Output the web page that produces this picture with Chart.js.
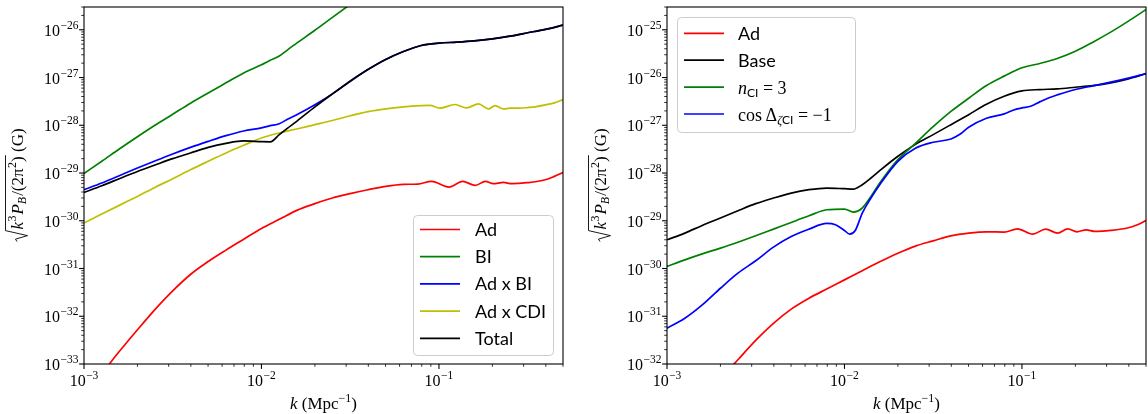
<!DOCTYPE html>
<html>
<head>
<meta charset="utf-8">
<script src="https://cdn.jsdelivr.net/npm/chart.js@4.4.1/dist/chart.umd.min.js"></script>
<style>
  html, body { margin: 0; padding: 0; background: #fff; }
  #wrap { position: relative; width: 1148px; height: 414px; }
  canvas { position: absolute; top: 0; }
  #left { left: 0; }
  #right { left: 574px; }
</style>
</head>
<body>
<div id="wrap">
  <canvas id="left" width="574" height="414"></canvas>
  <canvas id="right" width="574" height="414"></canvas>
</div>
<script>
// k values (Mpc^-1) shared by the smooth curves
const kBase = [0.001, 0.00126, 0.00158, 0.002, 0.00251, 0.00316, 0.00398, 0.00501, 0.00631, 0.00794,
  0.01, 0.0112, 0.0126, 0.0141, 0.0158, 0.02, 0.0251, 0.0316, 0.0398, 0.0501,
  0.0631, 0.0794, 0.1, 0.126, 0.158, 0.2, 0.251, 0.316, 0.398, 0.501];

// left panel
const leftBI = [9.8e-30, 1.76e-29, 3.18e-29, 5.75e-29, 1.0e-28, 1.70e-28, 2.90e-28, 4.76e-28, 7.73e-28, 1.25e-27,
  1.85e-27, 2.3e-27, 2.82e-27, 3.85e-27, 5.25e-27, 9.77e-27, 1.82e-26, 3.39e-26, 6.3e-26];
const leftAdBI = [4.47e-30, 6.17e-30, 8.79e-30, 1.27e-29, 1.79e-29, 2.51e-29, 3.45e-29, 4.61e-29, 6.07e-29, 7.60e-29,
  8.79e-29, 9.8e-29, 1.08e-28, 1.35e-28, 1.66e-28, 2.69e-28, 4.54e-28, 8.37e-28, 1.47e-27, 2.39e-27,
  3.51e-27, 4.69e-27, 5.25e-27, 5.51e-27, 5.87e-27, 6.47e-27, 7.36e-27, 8.65e-27, 1.02e-26, 1.25e-26];
const leftTotal = [3.93e-30, 5.42e-30, 7.60e-30, 1.08e-29, 1.47e-29, 2.00e-29, 2.63e-29, 3.45e-29, 4.19e-29, 4.69e-29,
  4.54e-29, 4.5e-29, 6.37e-29, 8.79e-29, 1.21e-28, 2.43e-28, 4.54e-28, 8.37e-28, 1.47e-27, 2.39e-27,
  3.51e-27, 4.69e-27, 5.25e-27, 5.51e-27, 5.87e-27, 6.47e-27, 7.36e-27, 8.65e-27, 1.02e-26, 1.25e-26];
const kLeftAdCDI = [0.001, 0.00126, 0.00158, 0.002, 0.00251, 0.00316, 0.00398, 0.00501, 0.00631, 0.00794,
  0.01, 0.0126, 0.0158, 0.02, 0.0251, 0.0316, 0.0398, 0.0501, 0.0631, 0.0794,
  0.089, 0.101, 0.123, 0.143, 0.167, 0.190, 0.207, 0.231, 0.251, 0.282, 0.316, 0.355, 0.398, 0.447, 0.501];
const leftAdCDI = [8.93e-31, 1.38e-30, 2.10e-30, 3.24e-30, 5.00e-30, 7.60e-30, 1.17e-29, 1.76e-29, 2.63e-29, 3.80e-29,
  5.42e-29, 6.90e-29, 8.37e-29, 1.03e-28, 1.26e-28, 1.58e-28, 1.93e-28, 2.21e-28, 2.43e-28, 2.57e-28,
  2.6e-28, 2.28e-28, 2.72e-28, 2.31e-28, 2.81e-28, 2.20e-28, 2.59e-28, 2.20e-28, 2.28e-28, 2.28e-28, 2.35e-28, 2.46e-28, 2.67e-28, 2.94e-28, 3.45e-28];
const kLeftAd = [0.001, 0.00126, 0.00158, 0.002, 0.00251, 0.00316, 0.00398, 0.00501, 0.00631, 0.00794,
  0.01, 0.0126, 0.0158, 0.02, 0.0251, 0.0316, 0.0398, 0.0501, 0.0631, 0.0759,
  0.091, 0.114, 0.136, 0.160, 0.183, 0.202, 0.231, 0.257, 0.313, 0.398, 0.447, 0.501];
const leftAd = [2.3e-34, 6.4e-34, 1.82e-33, 5.2e-33, 1.38e-32, 3.4e-32, 7.5e-32, 1.40e-31, 2.43e-31, 4.1e-31,
  6.9e-31, 1.07e-30, 1.65e-30, 2.28e-30, 3.0e-30, 3.7e-30, 4.47e-30, 5.25e-30, 5.78e-30, 5.88e-30,
  6.68e-30, 5.08e-30, 6.68e-30, 5.51e-30, 6.68e-30, 5.97e-30, 6.36e-30, 5.97e-30, 6.27e-30, 7.24e-30, 8.51e-30, 1.03e-29];

// right panel
const rightBase = [3.99e-30, 5.51e-30, 7.98e-30, 1.14e-29, 1.62e-29, 2.28e-29, 2.99e-29, 3.80e-29, 4.47e-29, 4.84e-29,
  4.69e-29, 4.6e-29, 5.69e-29, 7.85e-29, 1.12e-28, 2.24e-28, 3.98e-28, 6.37e-28, 1.03e-27, 1.67e-27,
  2.76e-27, 4.06e-27, 5.25e-27, 5.60e-27, 5.78e-27, 6.26e-27, 6.79e-27, 7.73e-27, 9.38e-27, 1.21e-26];
const rightNCI = [1.10e-30, 1.52e-30, 2.03e-30, 2.67e-30, 3.56e-30, 4.84e-30, 6.68e-30, 9.23e-30, 1.27e-29, 1.70e-29,
  1.76e-29, 1.52e-29, 1.85e-29, 3.24e-29, 6.17e-29, 1.91e-28, 4.17e-28, 9.33e-28, 1.95e-27, 3.68e-27,
  6.79e-27, 1.07e-26, 1.60e-26, 1.97e-26, 2.51e-26, 3.56e-26, 5.51e-26, 8.93e-26, 1.52e-25, 2.67e-25];
const kRightCos = [0.001, 0.00126, 0.00158, 0.002, 0.00251, 0.00316, 0.00398, 0.00501, 0.00631, 0.00794,
  0.0089, 0.01, 0.0107, 0.0115, 0.0126, 0.0141, 0.0158, 0.02, 0.0251, 0.0316,
  0.0398, 0.0447, 0.0501, 0.0631, 0.0794, 0.0891, 0.1, 0.112, 0.126, 0.141,
  0.158, 0.2, 0.251, 0.316, 0.398, 0.501];
const rightCos = [5.60e-32, 9.08e-32, 1.73e-31, 3.86e-31, 7.98e-31, 1.45e-30, 2.81e-30, 4.69e-30, 6.68e-30, 8.79e-30,
  8.24e-30, 6.27e-30, 5.25e-30, 6.27e-30, 1.45e-29, 2.99e-29, 5.69e-29, 1.76e-28, 3.30e-28, 4.40e-28,
  5.16e-28, 6.47e-28, 9.08e-28, 1.40e-27, 1.73e-27, 2.07e-27, 2.31e-27, 2.50e-27, 3.09e-27, 3.74e-27,
  4.33e-27, 5.60e-27, 6.68e-27, 7.98e-27, 9.68e-27, 1.21e-26];
const kRightAd = [0.002, 0.00251, 0.00316, 0.00398, 0.00501, 0.00631, 0.00794, 0.01, 0.0126, 0.0158,
  0.02, 0.0251, 0.0316, 0.0398, 0.0501, 0.0631, 0.0794, 0.0944, 0.115, 0.136,
  0.159, 0.181, 0.204, 0.230, 0.258, 0.316, 0.398, 0.447, 0.501];
const rightAd = [4.9e-33, 1.23e-32, 3.12e-32, 7.1e-32, 1.41e-31, 2.39e-31, 3.72e-31, 5.78e-31, 9.0e-31, 1.38e-30,
  2.09e-30, 2.95e-30, 3.80e-30, 4.84e-30, 5.51e-30, 5.87e-30, 5.8e-30, 6.79e-30, 5.25e-30, 6.68e-30,
  5.51e-30, 6.79e-30, 5.87e-30, 6.47e-30, 5.97e-30, 6.27e-30, 7.13e-30, 8.24e-30, 1.02e-29];

// axis ranges
const kRange = [1e-3, 0.5];
const leftYRange = [1e-33, 3e-26];
const rightYRange = [1e-32, 3e-25];

const SERIF = '"Liberation Serif", "DejaVu Serif", serif';
const SANS = 'Lato, "DejaVu Sans", sans-serif';
const RED = '#ff0000', GREEN = '#008000', BLUE = '#0000ff', YELLOW = '#bfbf00', BLACK = '#000000';

function toPoints(ks, vals) {
  return vals.map((v, i) => ({ x: ks[i], y: v }));
}

// draw a run of text pieces (sub/superscripts) one after another
function richWidth(ctx, parts) {
  let w = 0;
  parts.forEach(p => {
    ctx.font = p.font;
    w += ctx.measureText(p.text).width + (p.gap || 0);
  });
  return w;
}

function drawRich(ctx, parts, x, y, align) {
  const w = richWidth(ctx, parts);
  let cx = align === 'center' ? x - w / 2 : align === 'right' ? x - w : x;
  ctx.textAlign = 'left';
  ctx.textBaseline = 'alphabetic';
  parts.forEach(p => {
    ctx.font = p.font;
    ctx.fillText(p.text, cx, y + (p.dy || 0));
    cx += ctx.measureText(p.text).width + (p.gap || 0);
  });
  return w;
}

function powerParts(exp) {
  return [
    { text: '10', font: '16px ' + SERIF, gap: 0.5 },
    { text: '\u2212' + Math.abs(exp), font: '11.5px ' + SERIF, dy: -7 }
  ];
}

function logTicks(min, max) {
  const out = [];
  for (let n = Math.floor(Math.log10(min)); n <= Math.ceil(Math.log10(max)); n++) {
    for (let m = 1; m <= 9; m++) {
      const v = m * Math.pow(10, n);
      if (v >= min * 0.999 && v <= max * 1.001) out.push({ v, major: m === 1, exp: n });
    }
  }
  return out;
}

function drawYTitle(ctx, bx, cy) {
  const f = '17px ' + SERIF, fi = 'italic 17px ' + SERIF;
  const fs = '12px ' + SERIF, fsi = 'italic 12px ' + SERIF;
  const radicand = [
    { text: 'k', font: fi, gap: 0.5 },
    { text: '3', font: fs, dy: -7, gap: 1 },
    { text: 'P', font: fi },
    { text: 'B', font: fsi, dy: 3, gap: 1 },
    { text: '/(2\u03c0', font: f, gap: 0.5 },
    { text: '2', font: fs, dy: -7 },
    { text: ')', font: f }
  ];
  const tail = [{ text: ' (G)', font: f }];
  const radW = 13;
  const wRad = richWidth(ctx, radicand);
  const total = radW + wRad + richWidth(ctx, tail);
  ctx.save();
  ctx.translate(bx, cy);
  ctx.rotate(-Math.PI / 2);
  const x = -total / 2;
  ctx.beginPath();
  ctx.moveTo(x + 1, -6);
  ctx.lineTo(x + 3.5, -7.5);
  ctx.lineTo(x + 7, 4.5);
  ctx.lineTo(x + 12, -17.5);
  ctx.lineTo(x + radW + wRad + 1, -17.5);
  ctx.lineWidth = 0.9;
  ctx.strokeStyle = '#000';
  ctx.stroke();
  ctx.fillStyle = '#000';
  drawRich(ctx, radicand, x + radW, 0, 'left');
  drawRich(ctx, tail, x + radW + wRad, 0, 'left');
  ctx.restore();
}

function drawXTitle(ctx, cx, y) {
  drawRich(ctx, [
    { text: 'k', font: 'italic 17px ' + SERIF },
    { text: ' (Mpc', font: '17px ' + SERIF },
    { text: '\u22121', font: '12px ' + SERIF, dy: -7 },
    { text: ')', font: '17px ' + SERIF }
  ], cx, y, 'center');
}

// axes frame, log ticks, labels and legend (matplotlib look)
const decorPlugin = {
  id: 'decor',
  afterDraw(chart, args, opts) {
    const ctx = chart.ctx;
    const area = chart.chartArea;
    const xs = chart.scales.x, ys = chart.scales.y;
    ctx.save();
    ctx.strokeStyle = '#000';
    ctx.fillStyle = '#000';

    logTicks(xs.min, xs.max).forEach(t => {
      const px = xs.getPixelForValue(t.v);
      ctx.lineWidth = t.major ? 1.1 : 0.8;
      ctx.beginPath();
      ctx.moveTo(px, area.bottom);
      ctx.lineTo(px, area.bottom + (t.major ? 4.9 : 2.8));
      ctx.stroke();
      if (t.major) drawRich(ctx, powerParts(t.exp), px, area.bottom + 22, 'center');
    });
    logTicks(ys.min, ys.max).forEach(t => {
      const py = ys.getPixelForValue(t.v);
      ctx.lineWidth = t.major ? 1.1 : 0.8;
      ctx.beginPath();
      ctx.moveTo(area.left, py);
      ctx.lineTo(area.left - (t.major ? 4.9 : 2.8), py);
      ctx.stroke();
      if (t.major) drawRich(ctx, powerParts(t.exp), area.left - 5.5, py + 6, 'right');
    });

    ctx.lineWidth = 1.1;
    ctx.strokeRect(area.left, area.top, area.right - area.left, area.bottom - area.top);

    drawXTitle(ctx, (area.left + area.right) / 2, area.bottom + 45);
    drawYTitle(ctx, area.left - 61, (area.top + area.bottom) / 2);

    // legend
    const lg = opts.legend;
    if (lg) {
      const [bx, by, bw, bh] = lg.box;
      ctx.beginPath();
      ctx.roundRect(bx + 0.5, by + 0.5, bw, bh, 4);
      ctx.fillStyle = 'rgba(255,255,255,0.8)';
      ctx.fill();
      ctx.strokeStyle = '#cccccc';
      ctx.lineWidth = 1;
      ctx.stroke();
      lg.rows.forEach((row, i) => {
        const y = lg.firstY + i * lg.step;
        ctx.strokeStyle = row.color;
        ctx.lineWidth = 1.7;
        ctx.beginPath();
        ctx.moveTo(lg.lineX[0], y);
        ctx.lineTo(lg.lineX[1], y);
        ctx.stroke();
        ctx.fillStyle = '#000';
        drawRich(ctx, row.parts, lg.textX, y + 6.5, 'left');
      });
    }
    ctx.restore();
  }
};

function sansLabel(text) {
  return [{ text, font: '18px ' + SANS }];
}

function makeChart(id, datasets, yRange, padding, legend) {
  return new Chart(document.getElementById(id), {
    type: 'line',
    data: { datasets },
    options: {
      responsive: false,
      animation: false,
      devicePixelRatio: 1,
      events: [],
      layout: { padding, autoPadding: false },
      elements: {
        point: { radius: 0 },
        line: { borderWidth: 1.7, cubicInterpolationMode: 'monotone' }
      },
      scales: {
        x: { type: 'logarithmic', min: kRange[0], max: kRange[1], display: false },
        y: { type: 'logarithmic', min: yRange[0], max: yRange[1], display: false }
      },
      plugins: {
        legend: { display: false },
        tooltip: { enabled: false },
        decor: { legend }
      }
    },
    plugins: [decorPlugin]
  });
}

function line(label, color, pts, order) {
  return { label, data: pts, borderColor: color, backgroundColor: color, fill: false, order };
}

makeChart('left', [
  line('Ad', RED, toPoints(kLeftAd, leftAd), 5),
  line('BI', GREEN, toPoints(kBase, leftBI), 4),
  line('Ad x BI', BLUE, toPoints(kBase, leftAdBI), 3),
  line('Ad x CDI', YELLOW, toPoints(kLeftAdCDI, leftAdCDI), 2),
  line('Total', BLACK, toPoints(kBase, leftTotal), 1)
], leftYRange, { left: 84, right: 11, top: 7, bottom: 50 }, {
  box: [413, 215, 140, 140],
  lineX: [420, 460],
  textX: 475,
  firstY: 229.5,
  step: 27.2,
  rows: [
    { color: RED, parts: sansLabel('Ad') },
    { color: GREEN, parts: sansLabel('BI') },
    { color: BLUE, parts: sansLabel('Ad x BI') },
    { color: YELLOW, parts: sansLabel('Ad x CDI') },
    { color: BLACK, parts: sansLabel('Total') }
  ]
});

makeChart('right', [
  line('Ad', RED, toPoints(kRightAd, rightAd), 4),
  line('Base', BLACK, toPoints(kBase, rightBase), 3),
  line('n_CI = 3', GREEN, toPoints(kBase, rightNCI), 2),
  line('cos Δ_ζCI = −1', BLUE, toPoints(kRightCos, rightCos), 1)
], rightYRange, { left: 93, right: 2, top: 7, bottom: 50 }, {
  box: [103, 17, 178, 115],
  lineX: [110, 150],
  textX: 164,
  firstY: 33.3,
  step: 26.9,
  rows: [
    { color: RED, parts: sansLabel('Ad') },
    { color: BLACK, parts: sansLabel('Base') },
    { color: GREEN, parts: [
      { text: 'n', font: 'italic 18px ' + SERIF },
      { text: 'CI', font: '12px ' + SANS, dy: 3.5 },
      { text: ' = 3', font: '18px ' + SERIF }
    ] },
    { color: BLUE, parts: [
      { text: 'cos\u2009\u0394', font: '18px ' + SERIF },
      { text: '\u03b6', font: 'italic 12px ' + SERIF, dy: 3.5 },
      { text: 'CI', font: '12px ' + SANS, dy: 3.5 },
      { text: ' = \u22121', font: '18px ' + SERIF }
    ] }
  ]
});
</script>
</body>
</html>
